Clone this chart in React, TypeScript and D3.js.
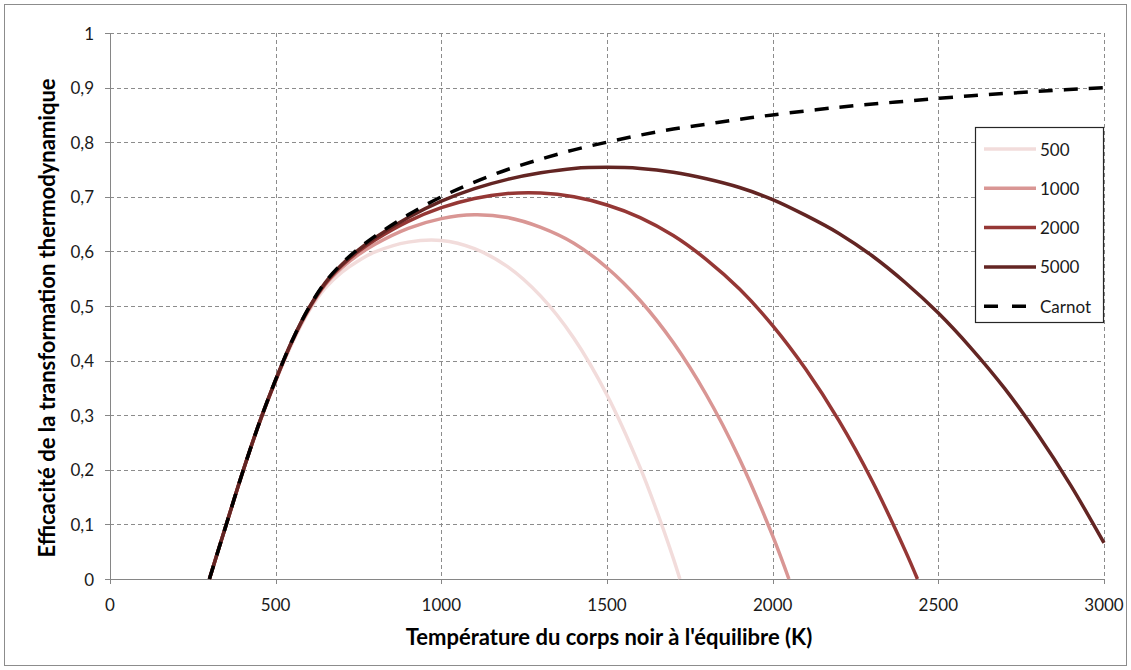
import React from "react";
import * as d3 from "d3";

// Axis ticks
const xTicks = [0, 500, 1000, 1500, 2000, 2500, 3000];
const yTicks = [0, 0.1, 0.2, 0.3, 0.4, 0.5, 0.6, 0.7, 0.8, 0.9, 1];
const yTickLabels = ["0", "0,1", "0,2", "0,3", "0,4", "0,5", "0,6", "0,7", "0,8", "0,9", "1"];

// Efficiency vs. black-body temperature (K), one list per solar concentration
const conc500: [number, number][] = [
  [300, 0], [350, 0.098], [400, 0.194], [450, 0.284], [500, 0.362], [550, 0.432],
  [600, 0.49], [650, 0.533], [700, 0.562], [750, 0.583], [800, 0.599], [900, 0.617],
  [1000, 0.62], [1100, 0.605], [1200, 0.572], [1300, 0.518], [1400, 0.441],
  [1500, 0.337], [1600, 0.204], [1650, 0.125], [1700, 0.038], [1720, 0],
];
const conc1000: [number, number][] = [
  [300, 0], [350, 0.098], [400, 0.195], [450, 0.284], [500, 0.364], [550, 0.435],
  [600, 0.493], [650, 0.539], [700, 0.57], [750, 0.594], [800, 0.613], [900, 0.642],
  [1000, 0.66], [1100, 0.667], [1200, 0.662], [1300, 0.644], [1400, 0.615],
  [1500, 0.57], [1600, 0.51], [1700, 0.433], [1800, 0.337], [1900, 0.22],
  [2000, 0.079], [2049, 0],
];
const conc2000: [number, number][] = [
  [300, 0], [350, 0.098], [400, 0.195], [450, 0.285], [500, 0.364], [550, 0.436],
  [600, 0.495], [650, 0.541], [700, 0.574], [750, 0.6], [800, 0.621], [900, 0.655],
  [1000, 0.68], [1100, 0.697], [1200, 0.706], [1300, 0.707], [1400, 0.7],
  [1500, 0.685], [1600, 0.662], [1700, 0.629], [1800, 0.585], [1900, 0.531],
  [2000, 0.464], [2100, 0.384], [2200, 0.29], [2300, 0.18], [2400, 0.052], [2437, 0],
];
const conc5000: [number, number][] = [
  [300, 0], [350, 0.098], [400, 0.195], [450, 0.285], [500, 0.365], [550, 0.437],
  [600, 0.496], [650, 0.543], [700, 0.576], [750, 0.603], [800, 0.625], [900, 0.662],
  [1000, 0.692], [1100, 0.715], [1200, 0.732], [1300, 0.744], [1400, 0.752],
  [1500, 0.754], [1600, 0.752], [1700, 0.745], [1800, 0.733], [1900, 0.717],
  [2000, 0.695], [2100, 0.666], [2200, 0.633], [2300, 0.592], [2400, 0.543],
  [2500, 0.487], [2600, 0.422], [2700, 0.349], [2800, 0.265], [2900, 0.171], [3000, 0.066],
];
const carnot: [number, number][] = [
  [300, 0], [350, 0.098], [400, 0.195], [450, 0.285], [500, 0.365], [550, 0.437],
  [600, 0.497], [650, 0.544], [700, 0.578], [750, 0.605], [800, 0.628], [900, 0.667],
  [1000, 0.7], [1100, 0.727], [1200, 0.75], [1300, 0.769], [1400, 0.786], [1500, 0.8],
  [1600, 0.813], [1700, 0.824], [1800, 0.833], [1900, 0.842], [2000, 0.85],
  [2200, 0.864], [2400, 0.875], [2600, 0.885], [2800, 0.893], [3000, 0.9],
];

const seriesNames = ["500", "1000", "2000", "5000", "Carnot"];
const seriesData = [conc500, conc1000, conc2000, conc5000, carnot];
const seriesColors = ["#F2DCDB", "#D99694", "#953735", "#632523", "#000000"];

const W = 1131;
const H = 670;
const FONT = "Lato, 'Open Sans', sans-serif";

export default function App() {
  const x = d3.scaleLinear().domain([0, 3000]).range([110, 1104]);
  const y = d3.scaleLinear().domain([0, 1]).range([579, 33]);
  const line = d3
    .line<[number, number]>()
    .x((d) => x(d[0]))
    .y((d) => y(d[1]))
    .curve(d3.curveCatmullRom.alpha(0.5));

  const gridColor = "#8c8c8c";
  const axisColor = "#868686";

  const legendX = 975;
  const legendY = 127;
  const legendRow = 39.3;

  return (
    <svg
      width={W}
      height={H}
      style={{ position: "absolute", left: 0, top: 0, background: "#fff" }}
      fontFamily={FONT}
    >
      <rect x={4.5} y={4.5} width={W - 9} height={H - 9} fill="#fff" stroke="#8c8c8c" strokeWidth={1} />

      {/* grid */}
      {yTicks.slice(1).map((t) => (
        <line key={"gy" + t} x1={x(0)} x2={x(3000)} y1={Math.round(y(t)) + 0.5} y2={Math.round(y(t)) + 0.5}
          stroke={gridColor} strokeWidth={1} strokeDasharray="4,3" />
      ))}
      {xTicks.slice(1).map((t) => (
        <line key={"gx" + t} x1={Math.round(x(t)) + 0.5} x2={Math.round(x(t)) + 0.5} y1={y(1)} y2={y(0)}
          stroke={gridColor} strokeWidth={1} strokeDasharray="4,3" />
      ))}

      {/* axes */}
      <line x1={x(0) + 0.5} x2={x(0) + 0.5} y1={y(1)} y2={y(0)} stroke={axisColor} strokeWidth={1} />
      <line x1={x(0)} x2={x(3000)} y1={Math.round(y(0)) + 0.5} y2={Math.round(y(0)) + 0.5} stroke={axisColor} strokeWidth={1} />
      {yTicks.map((t) => (
        <line key={"ty" + t} x1={x(0) - 5} x2={x(0)} y1={Math.round(y(t)) + 0.5} y2={Math.round(y(t)) + 0.5}
          stroke={axisColor} strokeWidth={1} />
      ))}
      {xTicks.map((t) => (
        <line key={"tx" + t} x1={Math.round(x(t)) + 0.5} x2={Math.round(x(t)) + 0.5} y1={y(0)} y2={y(0) + 5}
          stroke={axisColor} strokeWidth={1} />
      ))}

      {/* tick labels */}
      {yTicks.map((t, i) => (
        <text key={"ly" + t} x={94} y={y(t)} textAnchor="end" dominantBaseline="central"
          fontSize={17} fill="#1a1a1a">{yTickLabels[i]}</text>
      ))}
      {xTicks.map((t) => (
        <text key={"lx" + t} x={x(t)} y={611} textAnchor="middle" fontSize={17} fill="#1a1a1a">{t}</text>
      ))}

      {/* axis titles */}
      <text x={(x(0) + x(3000)) / 2 + 2} y={645} textAnchor="middle" fontSize={22} fontWeight="bold" fill="#000">
        Température du corps noir à l'équilibre (K)
      </text>
      <text transform={`translate(46, ${(y(0) + y(1)) / 2 + 12}) rotate(-90)`} textAnchor="middle"
        dominantBaseline="central" fontSize={22} fontWeight="bold" fill="#000">
        Efficacité de la transformation thermodynamique
      </text>

      {/* curves */}
      {seriesData.map((d, i) => (
        <path key={seriesNames[i]} d={line(d) || ""} fill="none" stroke={seriesColors[i]}
          strokeWidth={3.5} strokeDasharray={seriesNames[i] === "Carnot" ? "14,11" : undefined} />
      ))}

      {/* legend */}
      <rect x={legendX + 0.5} y={legendY + 0.5} width={128} height={195} fill="#fff" stroke="#262626" strokeWidth={1.2} />
      {seriesNames.map((name, i) => {
        const cy = legendY + 22 + i * legendRow;
        return (
          <g key={"lg" + name}>
            <line x1={legendX + 9} x2={name === "Carnot" ? legendX + 51 : legendX + 61} y1={cy} y2={cy}
              stroke={seriesColors[i]} strokeWidth={3.5}
              strokeDasharray={name === "Carnot" ? "14,14" : undefined} />
            <text x={legendX + 65} y={cy} dominantBaseline="central" fontSize={17} fill="#1a1a1a">{name}</text>
          </g>
        );
      })}
    </svg>
  );
}
